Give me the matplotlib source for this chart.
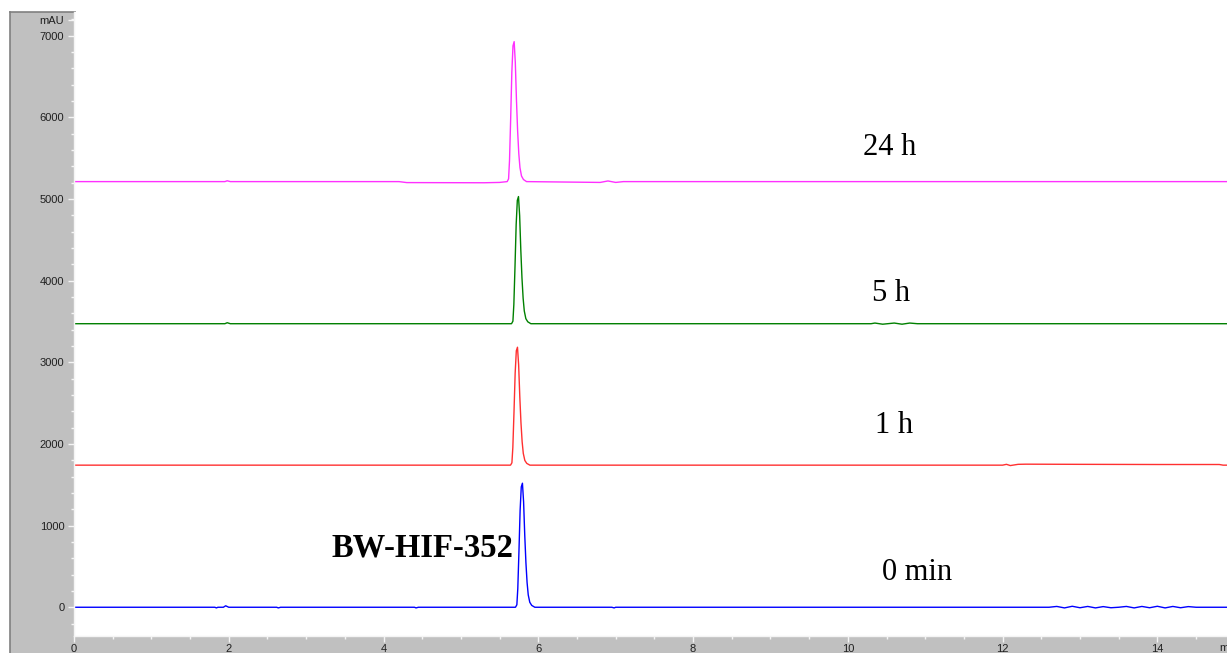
import numpy as np
import matplotlib.pyplot as plt
from matplotlib.patches import Rectangle
from matplotlib.lines import Line2D
from matplotlib.ticker import MultipleLocator

# Traces (time in min, signal in mAU)
labels = ["0 min", "1 h", "5 h", "24 h"]
colors = ["#0000ff", "#ff3030", "#008000", "#ff30ff"]
baselines = [0, 1740, 3472, 5212]
peak_times = [5.795, 5.731, 5.744, 5.688]
peak_heights = [1519, 1444, 1557, 1714]

# Peak profile relative to apex (offset in min, fraction of height)
peak_dt = [-0.09, -0.072, -0.060, -0.045, -0.030, -0.015, 0.0, 0.015, 0.030,
           0.045, 0.060, 0.075, 0.095, 0.12, 0.16]
peak_frac = [0.0, 0.02, 0.15, 0.45, 0.78, 0.97, 1.0, 0.85, 0.58,
             0.36, 0.20, 0.10, 0.04, 0.015, 0.0]

# Small baseline features for each trace (time, offset from baseline)
blips = [
    [(1.82, 0), (1.84, -8), (1.86, 0), (1.93, 0), (1.96, 18), (2.0, 0), (2.62, 0), (2.64, -8),
     (2.67, 0), (4.40, 0), (4.42, -8), (4.45, 0), (6.95, 0), (6.98, -8), (7.0, 0),
     (12.60, 0), (12.7, 10), (12.8, -8), (12.9, 12), (13.0, -6), (13.1, 10), (13.2, -8),
     (13.3, 8), (13.4, -6), (13.5, 0), (13.6, 10), (13.7, -8), (13.8, 10), (13.9, -6),
     (14.0, 12), (14.1, -8), (14.2, 10), (14.3, -6), (14.4, 8), (14.5, 0)],
    [(12.0, 0), (12.05, 10), (12.1, -5), (12.2, 10), (12.3, 12), (13.0, 10), (14.0, 8),
     (14.8, 8), (14.85, 0)],
    [(1.95, 0), (1.98, 12), (2.02, 0), (10.3, 0), (10.35, 8), (10.45, -6), (10.6, 8),
     (10.7, -6), (10.8, 8), (10.9, 0)],
    [(1.95, 0), (1.98, 10), (2.02, 0), (4.2, 0), (4.3, -12), (5.3, -14), (5.5, -10),
     (6.8, -10), (6.9, 8), (7.0, -10), (7.1, 0)],
]

time_range = (0, 14.9)
ymin, ymax = -352, 7295

W, H = 1227, 653
fig = plt.figure(figsize=(W / 100, H / 100), dpi=100, facecolor="white")

# grey instrument frame, kept behind the axes
fig.add_artist(Rectangle((10 / W, 0), (W - 10) / W, (H - 12) / H, zorder=-10,
                         transform=fig.transFigure, facecolor="#c0c0c0", edgecolor="none"))
fig.add_artist(Line2D([10 / W, 10 / W], [0, (H - 12) / H], transform=fig.transFigure,
                      color="#808080", lw=1.2, zorder=-9))
fig.add_artist(Line2D([10 / W, 75 / W], [(H - 12) / H, (H - 12) / H],
                      transform=fig.transFigure, color="#808080", lw=1.2, zorder=-9))

ax = fig.add_axes([74 / W, (H - 636) / H, (W - 74) / W, (636 - 11.5) / H])
ax.set_facecolor("white")

for i in range(4):
    t0 = peak_times[i]
    pts = [(time_range[0], 0.0), (time_range[1], 0.0)]
    pts += [(t0 + d, f * peak_heights[i]) for d, f in zip(peak_dt, peak_frac)]
    pts += blips[i]
    pts.sort()
    t = np.array([p[0] for p in pts])
    y = np.array([p[1] for p in pts]) + baselines[i]
    ax.plot(t, y, color=colors[i], lw=1.0)

ax.set_xlim(*time_range)
ax.set_ylim(ymin, ymax)

ax.xaxis.set_major_locator(MultipleLocator(2))
ax.xaxis.set_minor_locator(MultipleLocator(0.5))
ax.yaxis.set_minor_locator(MultipleLocator(200))
ax.set_yticks(list(range(0, 8000, 1000)) + [7196])
ax.set_yticklabels([str(v) for v in range(0, 8000, 1000)] + ["mAU"])

for s in ["top", "right"]:
    ax.spines[s].set_visible(False)
for s in ["left", "bottom"]:
    ax.spines[s].set_color("#f4f4f4")
    ax.spines[s].set_linewidth(1.0)

ax.tick_params(which="major", direction="out", length=4, width=1, color="#f4f4f4",
               labelsize=8, labelcolor="#202020", pad=3)
ax.tick_params(which="minor", direction="out", length=2.5, width=1, color="#f4f4f4")
ax.tick_params(axis="x", which="major", pad=1.5)
for lab in ax.get_xticklabels() + ax.get_yticklabels():
    lab.set_family("Liberation Sans")

# time axis unit, truncated at the frame edge
fig.text(1219 / W, (H - 648) / H, "m", fontsize=8, color="#202020",
         family="Liberation Sans", va="center", ha="left")

# sample labels
serif = "Liberation Serif"
ax.text(10.54, 5635, "24 h", fontsize=22, family=serif, ha="center", va="center")
ax.text(10.56, 3848, "5 h", fontsize=22, family=serif, ha="center", va="center")
ax.text(10.60, 2230, "1 h", fontsize=22, family=serif, ha="center", va="center")
ax.text(10.90, 428, "0 min", fontsize=22, family=serif, ha="center", va="center")
ax.text(4.50, 722, "BW-HIF-352", fontsize=23.5, family=serif, fontweight="bold",
        ha="center", va="center")

fig.savefig("out.png", dpi=100, facecolor="white")
